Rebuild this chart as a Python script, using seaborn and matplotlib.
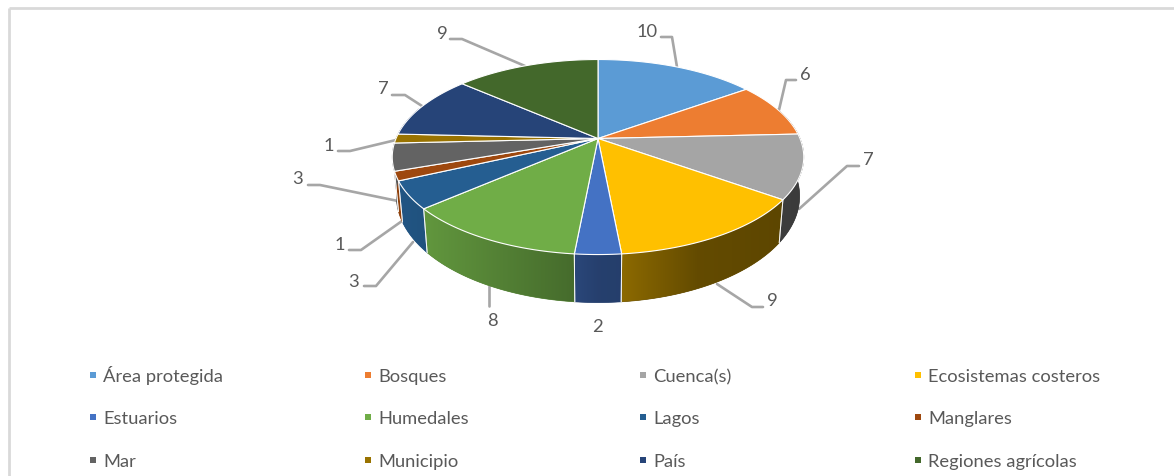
import numpy as np
import seaborn as sns
import matplotlib
matplotlib.use("Agg")
import matplotlib.pyplot as plt

categories = ["Área protegida", "Bosques", "Cuenca(s)", "Ecosistemas costeros",
              "Estuarios", "Humedales", "Lagos", "Manglares",
              "Mar", "Municipio", "País", "Regiones agrícolas"]
values = [10, 6, 7, 9, 2, 8, 3, 1, 3, 1, 7, 9]
hex_colors = ["#5B9BD5", "#ED7D31", "#A5A5A5", "#FFC000", "#4472C4", "#70AD47",
              "#255E91", "#9E480E", "#636363", "#997300", "#264478", "#43682B"]

sns.set_theme(style="white")
plt.rcParams["font.family"] = ["Lato", "DejaVu Sans"]
palette = sns.color_palette(hex_colors)

W, H = 1174, 477
fig = plt.figure(figsize=(W / 100, H / 100), dpi=100)
ax = fig.add_axes([0, 0, 1, 1])

TEXT = "#595959"
LEAD = "#A6A6A6"
FS = 13.2

# tilted-disc projection
CX, CY = 598.0, 139.5
K, A, B = 0.19, 94.0, 202.0


def top(theta):
    u, v = np.sin(theta), np.cos(theta)
    w = 1 + K * v
    return B * u / w, -A * v / w


def bottom(theta):
    x, y = top(theta)
    return 0.98 * x, 1.09 * y + 37.5


def shade(x):
    return np.interp(x, [-206, -173, -23, 0, 24, 100, 206],
                     [0.92, 0.87, 0.62, 0.56, 0.55, 0.39, 0.36])


vals = np.asarray(values, float)
edges = np.concatenate([[0], np.cumsum(vals)]) / vals.sum() * 2 * np.pi

# frame of the chart area
ax.plot([9, W], [9, 9], color="#D9D9D9", lw=2, solid_capstyle="butt")
ax.plot([9, 9], [9, H], color="#D9D9D9", lw=2, solid_capstyle="butt")

# side wall: one polygon per slice, filled with a horizontal gradient
lo, hi = np.radians(70), np.radians(290)
grad_x = np.arange(-210, 211)
for i, col in enumerate(palette):
    a0, a1 = max(edges[i], lo), min(edges[i + 1], hi)
    if a1 <= a0:
        continue
    ts = np.linspace(a0, a1, 80)
    xt, yt = top(ts)
    xb, yb = bottom(ts[::-1])
    px = CX + np.r_[xt, xb]
    py = CY + np.r_[yt, yb]
    mean_col = tuple(float(shade(np.mean(xt))) * np.array(col))
    poly = ax.fill(px, py, facecolor=mean_col, edgecolor=mean_col, lw=0.5, zorder=2)[0]
    rgb = shade(grad_x)[:, None] * np.array(col)[None, :]
    im = ax.imshow(rgb[None, :, :], extent=(CX - 210, CX + 210, 330, 60), aspect="auto",
                   interpolation="bilinear", zorder=2.1)
    im.set_clip_path(poly)
    for t in (a0, a1):
        if lo < t < hi:
            x0, y0 = top(t)
            x1, y1 = bottom(t)
            ax.plot([CX + x0, CX + x1], [CY + y0, CY + y1], color="white",
                    lw=0.7, alpha=0.8, zorder=3)

# top face
for i, col in enumerate(palette):
    ts = np.linspace(edges[i], edges[i + 1], max(3, int(np.degrees(edges[i + 1] - edges[i])) + 1))
    x, y = top(ts)
    ax.fill(CX + np.r_[0, x], CY + np.r_[0, y], facecolor=col, edgecolor="white",
            lw=0.8, zorder=4, joinstyle="round")

# data labels with leader lines
label_pos = [(647, 32), (805, 75), (868, 160), (772, 301), (597, 327), (492, 321),
             (354, 282), (340, 245), (298, 179), (329, 146), (383, 89), (442, 34)]
leaders = [[(661, 38), (672, 38), (677, 68)],
           [(796, 81), (786, 81), (779, 111)],
           [(859, 167), (847, 167), (799, 210)],
           [(763, 308), (752, 308), (717, 285)],
           None,
           [(489, 307), (489, 287)],
           [(364, 287), (376, 287), (413, 243)],
           [(349, 251), (361, 251), (402, 222)],
           [(308, 186), (320, 186), (398, 202)],
           [(338, 152), (350, 152), (396, 141)],
           [(392, 96), (405, 96), (422, 107)],
           [(450, 40), (462, 40), (525, 67)]]
for v, (tx, ty), pts in zip(values, label_pos, leaders):
    ax.text(tx, ty, str(v), ha="center", va="center", color=TEXT, fontsize=FS, zorder=6)
    if pts:
        p = np.array(pts)
        ax.plot(p[:, 0], p[:, 1], color=LEAD, lw=1.9, zorder=1, solid_joinstyle="round")

# legend grid: rows read across
marker_x = [93, 368, 643, 918]
text_x = [103, 378, 653, 928]
marker_y = [376, 418, 461]
text_y = [382, 424, 467]
for i, (name, col) in enumerate(zip(categories, palette)):
    r, c = divmod(i, 4)
    ax.scatter([marker_x[c]], [marker_y[r]], marker="s", s=20, color=col, linewidths=0, zorder=5)
    ax.text(text_x[c], text_y[r], name, ha="left", va="baseline", color=TEXT, fontsize=FS)

ax.set_xlim(0, W)
ax.set_ylim(H, 0)
ax.set_axis_off()
fig.savefig("out.png", dpi=100)
